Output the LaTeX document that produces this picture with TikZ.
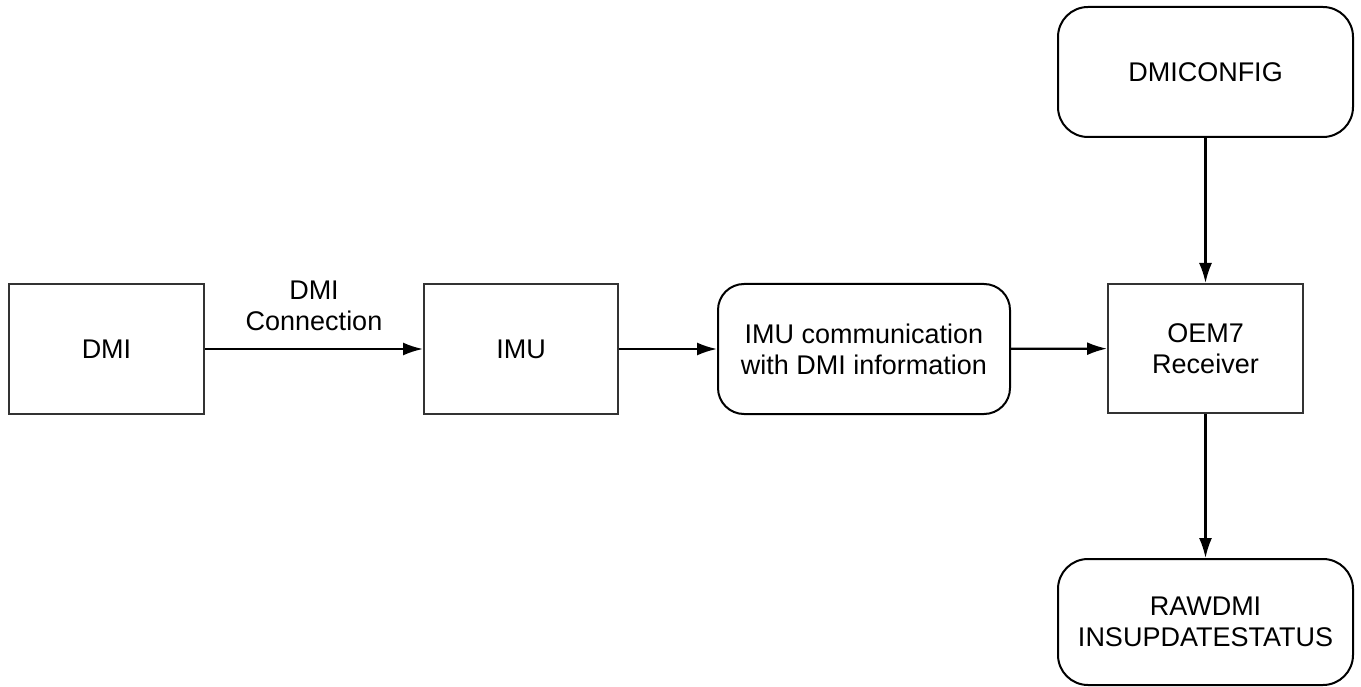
\documentclass[tikz,border=0pt]{standalone}
\usepackage{fontspec}
\setmainfont{Liberation Sans}
\usetikzlibrary{arrows.meta}
\begin{document}
\begin{tikzpicture}[x=1pt,y=-1pt,
  txt/.style={font=\fontsize{27}{31}\selectfont},
  box/.style={txt,draw=black!80,line width=2pt,fill=white,inner sep=0pt,align=center},
  rbox/.style={box,draw=black,rounded corners=26pt},
  conn/.style={line width=2.2pt,-{Latex[length=20pt,width=13pt]}}]
\useasboundingbox (0,0) rectangle (1361,687);
\node[box,minimum width=195pt,minimum height=130pt] (dmi) at (106.5,349) {DMI};
\node[box,minimum width=194pt,minimum height=130pt] (imu) at (521,349) {IMU};
\node[rbox,minimum width=292pt,minimum height=130pt] (comm) at (864,349) {IMU communication\\with DMI information};
\node[box,minimum width=195pt,minimum height=129pt] (oem) at (1205.5,348.5) {OEM7\\Receiver};
\node[rbox,rounded corners=30pt,minimum width=295pt,minimum height=130pt] (cfg) at (1205.5,72) {DMICONFIG};
\node[rbox,rounded corners=30pt,minimum width=295pt,minimum height=126pt] (raw) at (1205.5,622) {RAWDMI\\INSUPDATESTATUS};
\draw[conn] (dmi) -- node[above=14pt,align=center,txt] {DMI\\Connection} (imu);
\draw[conn] (imu) -- (comm);
\draw[conn] (comm) -- (oem);
\draw[conn] (cfg) -- (oem);
\draw[conn] (oem) -- (raw);
\end{tikzpicture}
\end{document}
